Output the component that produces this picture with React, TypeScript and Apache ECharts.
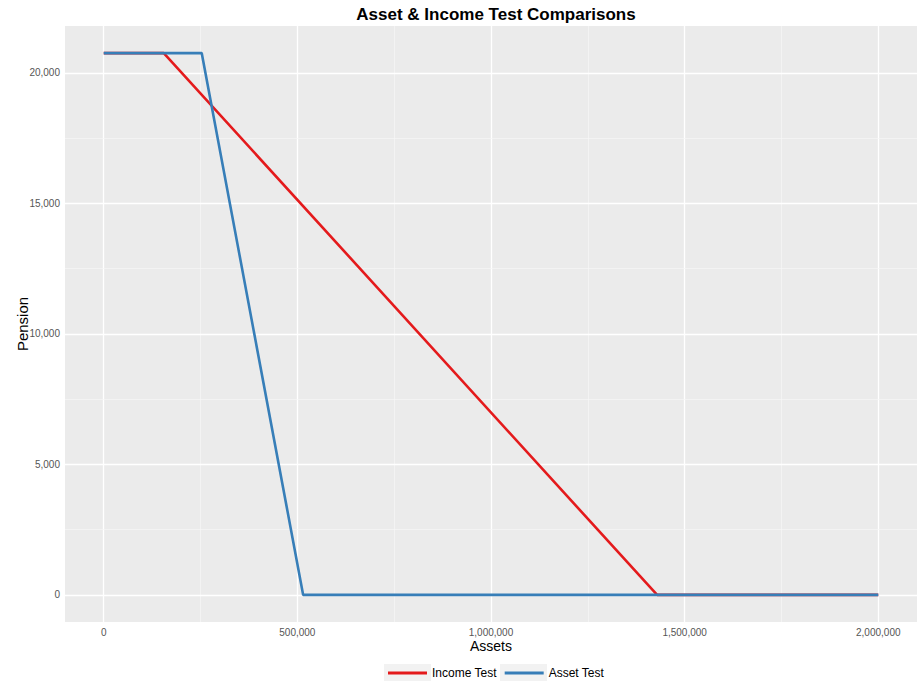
import React, { useEffect, useRef } from "react";
import * as echarts from "echarts";

const incomeTest: [number, number][] = [
  [0, 20760],
  [155000, 20760],
  [1429000, 0],
  [2000000, 0],
];
const assetTest: [number, number][] = [
  [0, 20760],
  [253000, 20760],
  [515000, 0],
  [2000000, 0],
];
const xTicks = [0, 500000, 1000000, 1500000, 2000000];
const xMinor = [250000, 750000, 1250000, 1750000];
const yTicks = [0, 5000, 10000, 15000, 20000];
const yMinor = [2500, 7500, 12500, 17500];

const fmt = (v: number) => v.toLocaleString("en-US");

export default function App() {
  const ref = useRef<HTMLDivElement>(null);
  useEffect(() => {
    if (!ref.current) return;
    const chart = echarts.init(ref.current, null, { renderer: "svg" });
    const major = { color: "#ffffff", width: 1.3, type: "solid" };
    const minor = { color: "#f7f7f7", width: 0.7, type: "solid" };
    const gridLines = [
      ...xTicks.map((v) => ({ xAxis: v, lineStyle: major })),
      ...xMinor.map((v) => ({ xAxis: v, lineStyle: minor })),
      ...yTicks.map((v) => ({ yAxis: v, lineStyle: major })),
      ...yMinor.map((v) => ({ yAxis: v, lineStyle: minor })),
    ];
    chart.setOption({
      animation: false,
      textStyle: { fontFamily: "Liberation Sans, Arial, sans-serif" },
      title: {
        text: "Asset & Income Test Comparisons",
        left: 491,
        textAlign: "center",
        top: 1,
        textStyle: { fontSize: 17, fontWeight: "bold", color: "#000" },
      },
      grid: {
        left: 65,
        right: 4,
        top: 26,
        bottom: 59,
        show: true,
        backgroundColor: "#ebebeb",
        borderWidth: 0,
        containLabel: false,
        outerBoundsMode: "none",
      },
      legend: {
        bottom: 2,
        left: 388,
        padding: 0,
        itemWidth: 39,
        itemHeight: 3,
        itemGap: 8,
        icon: "rect",
        textStyle: { fontSize: 12, color: "#000" },
        data: ["Income Test", "Asset Test"],
      },
      graphic: [
        { type: "rect", left: 384, top: 664, shape: { width: 47, height: 20 }, style: { fill: "#f2f2f2" }, z: -1 },
        { type: "rect", left: 500, top: 664, shape: { width: 47, height: 20 }, style: { fill: "#f2f2f2" }, z: -1 },
      ],
      xAxis: {
        type: "value",
        min: -100000,
        max: 2100000,
        name: "Assets",
        nameLocation: "middle",
        nameGap: 17,
        nameMoveOverlap: false,
        nameTextStyle: { fontSize: 14, color: "#000" },
        axisLine: { show: false },
        splitLine: { show: false },
        axisTick: { show: true, customValues: xTicks, length: 3, lineStyle: { color: "#333" } },
        axisLabel: { customValues: xTicks, formatter: fmt, fontSize: 10, color: "#555", margin: 5 },
      },
      yAxis: {
        type: "value",
        min: -1038,
        max: 21798,
        name: "Pension",
        nameLocation: "middle",
        nameGap: 35,
        nameMoveOverlap: false,
        nameRotate: 90,
        nameTextStyle: { fontSize: 15, color: "#000" },
        axisLine: { show: false },
        splitLine: { show: false },
        axisTick: { show: true, customValues: yTicks, length: 3, lineStyle: { color: "#333" } },
        axisLabel: { customValues: yTicks, formatter: fmt, fontSize: 10, color: "#555", margin: 5 },
      },
      series: [
        {
          type: "line",
          name: "_grid",
          data: [],
          z: 1,
          silent: true,
          markLine: { silent: true, z: 1, symbol: "none", label: { show: false }, data: gridLines, animation: false },
        },
        {
          type: "line",
          name: "Income Test",
          data: incomeTest,
          showSymbol: false,
          symbol: "none",
          z: 3,
          itemStyle: { color: "#e41a1c" },
          lineStyle: { color: "#e41a1c", width: 2.6 },
        },
        {
          type: "line",
          name: "Asset Test",
          data: assetTest,
          showSymbol: false,
          symbol: "none",
          z: 4,
          itemStyle: { color: "#377eb8" },
          lineStyle: { color: "#377eb8", width: 2.6 },
        },
      ],
    });
    return () => chart.dispose();
  }, []);
  return <div ref={ref} style={{ width: 921, height: 681, position: "absolute", left: 0, top: 0 }} />;
}
